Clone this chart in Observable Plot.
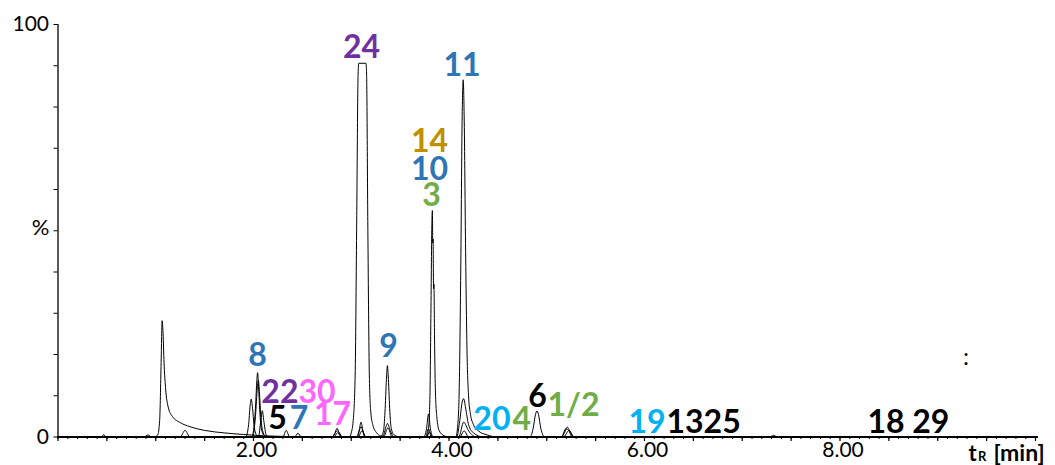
<!DOCTYPE html>
<html>
<head>
<meta charset="utf-8">
<script src="https://cdn.jsdelivr.net/npm/d3@7"></script>
<script src="https://cdn.jsdelivr.net/npm/@observablehq/plot@0.6"></script>
<style>
  html, body { margin: 0; padding: 0; background: #fff; }
  #chart { width: 1055px; height: 465px; overflow: hidden; }
</style>
</head>
<body>
<div id="chart"></div>
<script>
// ---- Traces: [retention time (min), relative intensity (%)] ----
const trace1 = [
  [0, 0], [0.98, 0], [1.02, 0.5], [1.04, 4], [1.055, 18], [1.065, 28.2], [1.075, 25], [1.085, 18],
  [1.1, 12], [1.13, 7], [1.17, 5], [1.25, 3.5], [1.35, 2.5], [1.5, 1.6], [1.7, 1.0], [1.9, 0.6],
  [2.1, 0.3], [2.4, 0.1], [2.6, 0], [2.98, 0], [3.0, 1], [3.02, 4], [3.04, 15], [3.055, 50],
  [3.07, 88], [3.077, 90.6], [3.15, 90.6], [3.157, 88], [3.17, 50], [3.185, 15], [3.2, 6],
  [3.22, 3], [3.26, 1], [3.3, 0.3], [3.4, 0], [4.07, 0], [4.09, 3], [4.105, 12], [4.12, 40],
  [4.135, 78], [4.145, 86.6], [4.155, 78], [4.17, 45], [4.185, 20], [4.2, 10], [4.22, 5.5],
  [4.25, 3], [4.3, 1.5], [4.39, 0.5], [4.5, 0], [10.02, 0]
];
const trace2 = [
  [0, 0], [1.98, 0], [2.0, 1.5], [2.02, 7], [2.035, 14], [2.042, 15.6], [2.05, 13], [2.065, 6],
  [2.08, 2], [2.11, 0.3], [2.15, 0], [3.30, 0], [3.33, 1.5], [3.345, 6], [3.36, 14], [3.37, 17.3],
  [3.38, 14], [3.395, 6], [3.41, 2], [3.44, 0.5], [3.5, 0], [3.77, 0], [3.79, 2], [3.805, 10],
  [3.815, 30], [3.825, 52], [3.83, 54.9], [3.834, 47], [3.837, 48], [3.842, 36], [3.846, 37],
  [3.852, 24], [3.86, 12], [3.875, 5], [3.9, 1.5], [3.95, 0.3], [4.0, 0], [10.02, 0]
];
const trace3 = [
  [0, 0], [0.45, 0], [0.466, 0.6], [0.49, 0], [0.88, 0], [0.92, 0.5], [0.96, 0], [1.25, 0],
  [1.30, 1.6], [1.35, 0], [1.92, 0], [1.95, 3], [1.965, 7.5], [1.976, 9.2], [1.99, 7], [2.005, 3],
  [2.03, 0.5], [2.06, 0], [2.8, 0], [2.83, 0.8], [2.855, 2.1], [2.875, 1], [2.91, 0], [3.05, 0],
  [3.08, 1.5], [3.1, 3.6], [3.12, 1.5], [3.15, 0], [3.74, 0], [3.77, 2], [3.79, 5.6], [3.81, 2],
  [3.84, 0], [4.08, 0], [4.11, 4], [4.14, 9], [4.15, 9.3], [4.17, 7], [4.2, 3], [4.25, 1],
  [4.35, 0], [4.83, 0], [4.86, 2], [4.885, 5.5], [4.9, 6.3], [4.915, 5.5], [4.94, 2], [4.98, 0],
  [5.15, 0], [5.185, 1.2], [5.21, 2.4], [5.235, 1.5], [5.27, 0], [7.28, 0], [7.32, 0.4],
  [7.36, 0], [10.02, 0]
];
const trace4 = [
  [0, 0], [1.99, 0], [2.02, 5], [2.04, 12], [2.05, 13.7], [2.06, 11], [2.075, 5], [2.1, 1],
  [2.13, 0], [2.30, 0], [2.335, 1.6], [2.37, 0], [2.8, 0], [2.86, 1.5], [2.91, 0], [3.06, 0],
  [3.1, 2.5], [3.14, 0], [3.32, 0], [3.36, 2.8], [3.37, 3.3], [3.4, 1.5], [3.44, 0], [3.76, 0],
  [3.79, 2.0], [3.82, 0], [4.1, 0], [4.15, 3.6], [4.2, 1.5], [4.28, 0], [5.15, 0], [5.195, 2.0],
  [5.225, 1.6], [5.26, 0], [10.02, 0]
];
const trace5 = [
  [0, 0], [2.05, 0], [2.075, 4], [2.09, 6.4], [2.105, 4], [2.13, 0.5], [2.16, 0], [2.42, 0],
  [2.455, 0.9], [2.49, 0], [2.82, 0], [2.86, 1.0], [2.9, 0], [3.07, 0], [3.11, 1.5], [3.15, 0],
  [3.33, 0], [3.375, 2.2], [3.42, 0], [3.77, 0], [3.8, 1.2], [3.83, 0], [4.11, 0], [4.155, 1.5],
  [4.2, 0], [5.17, 0], [5.23, 1.6], [5.28, 0], [10.02, 0]
];

// ---- Compound labels: text, retention time, height, colour ----
const purple = "#7030A0", blue = "#2E75B6", magenta = "#FF66FF", green = "#70AD47",
      gold = "#BF9000", cyan = "#00B0F0", black = "#000000";

const centerText  = ["24", "11", "14", "10", "3", "9", "8", "5", "7", "17", "6", "1/2", "18 29"];
const centerT     = [3.105, 4.133, 3.80, 3.80, 3.821, 3.381, 2.041, 2.245, 2.465, 2.808, 4.905, 5.274, 8.70];
const centerV     = [92.0, 87.6, 69.0, 62.4, 55.9, 19.3, 17.3, 2.06, 2.06, 2.79, 7.39, 4.97, 0.85];
const centerColor = [purple, blue, gold, blue, green, blue, blue, black, blue, magenta, black, green, black];

const endText  = ["22", "20", "19"];
const endT     = [2.460, 4.629, 6.215];
const endV     = [8.36, 1.58, 0.85];
const endColor = [purple, cyan, cyan];

const startText  = ["30", "4", "1325"];
const startT     = [2.460, 4.649, 6.225];
const startV     = [8.36, 1.58, 0.85];
const startColor = [magenta, green, black];

// ---- Axis ticks ----
const xMinorTicks = d3.range(0, 101).map(i => i / 10);
const xMajorTicks = d3.range(0, 21).map(i => i / 2);
const xLabelTicks = [2, 4, 6, 8];
const yMinorTicks = d3.range(0, 101, 10);
const yLabelTicks = [0, 100];

const toRows = (texts, ts, vs, cs) => texts.map((s, i) => ({label: s, t: ts[i], v: vs[i], color: cs[i]}));
const centerLabels = toRows(centerText, centerT, centerV, centerColor);
const endLabels = toRows(endText, endT, endV, endColor);
const startLabels = toRows(startText, startT, startV, startColor);
const traces = [trace1, trace2, trace3, trace4, trace5];

const labelStyle = {x: "t", y: "v", text: "label", fill: "color", fontSize: 32, fontWeight: "bold", lineAnchor: "bottom"};

const chart = Plot.plot({
  width: 1055,
  height: 465,
  marginLeft: 57.5,
  marginRight: 20,
  marginTop: 24,
  marginBottom: 28.5,
  x: {domain: [0, 10], label: null},
  y: {domain: [0, 100], label: null},
  color: {type: "identity"},
  style: {fontFamily: "Lato, 'Open Sans', sans-serif", background: "#fff", overflow: "visible", color: "#000"},
  marks: [
    // traces
    ...traces.map(tr => Plot.line(tr, {x: d => d[0], y: d => d[1], stroke: "#000", strokeWidth: 1, curve: "monotone-x"})),
    // axes
    Plot.axisX(xMinorTicks, {tickSize: 2.5, tickFormat: () => "", strokeWidth: 1, label: null}),
    Plot.axisX(xMajorTicks, {tickSize: 4.5, tickFormat: () => "", strokeWidth: 1.2, label: null}),
    Plot.axisX(xLabelTicks, {tickSize: 0, tickPadding: 5, tickFormat: d3.format(".2f"), fontSize: 21, dx: 3, label: null}),
    Plot.axisY(yMinorTicks, {tickSize: 4, tickFormat: () => "", strokeWidth: 1, label: null}),
    Plot.axisY(yLabelTicks, {tickSize: 0, tickPadding: 9, tickFormat: d => String(d), fontSize: 21, label: null}),
    Plot.ruleY([0], {x1: 0, x2: 10.02, stroke: "#000", strokeWidth: 2}),
    Plot.ruleX([0], {y1: 0, y2: 100, stroke: "#000", strokeWidth: 1.3}),
    // axis titles
    Plot.text(["%"], {x: -0.179, y: 48.85, text: d => d, fontSize: 22, lineAnchor: "bottom", fill: "#000"}),
    Plot.text(["t"], {x: 9.314, y: -5.7, text: d => d, fontSize: 22, fontWeight: "bold", textAnchor: "start", lineAnchor: "bottom", fill: "#000"}),
    Plot.text(["R"], {x: 9.412, y: -5.9, text: d => d, fontSize: 13, fontWeight: "bold", textAnchor: "start", lineAnchor: "bottom", fill: "#000"}),
    Plot.text(["[min]"], {x: 9.57, y: -5.7, text: d => d, fontSize: 23, fontWeight: "bold", textAnchor: "start", lineAnchor: "bottom", fill: "#000"}),
    Plot.text([":"], {x: 9.29, y: 17.5, text: d => d, fontSize: 24, lineAnchor: "bottom", fill: "#000"}),
    // compound labels
    Plot.text(centerLabels, {...labelStyle, textAnchor: "middle"}),
    Plot.text(endLabels, {...labelStyle, textAnchor: "end"}),
    Plot.text(startLabels, {...labelStyle, textAnchor: "start"})
  ]
});
document.getElementById("chart").appendChild(chart);
</script>
</body>
</html>
